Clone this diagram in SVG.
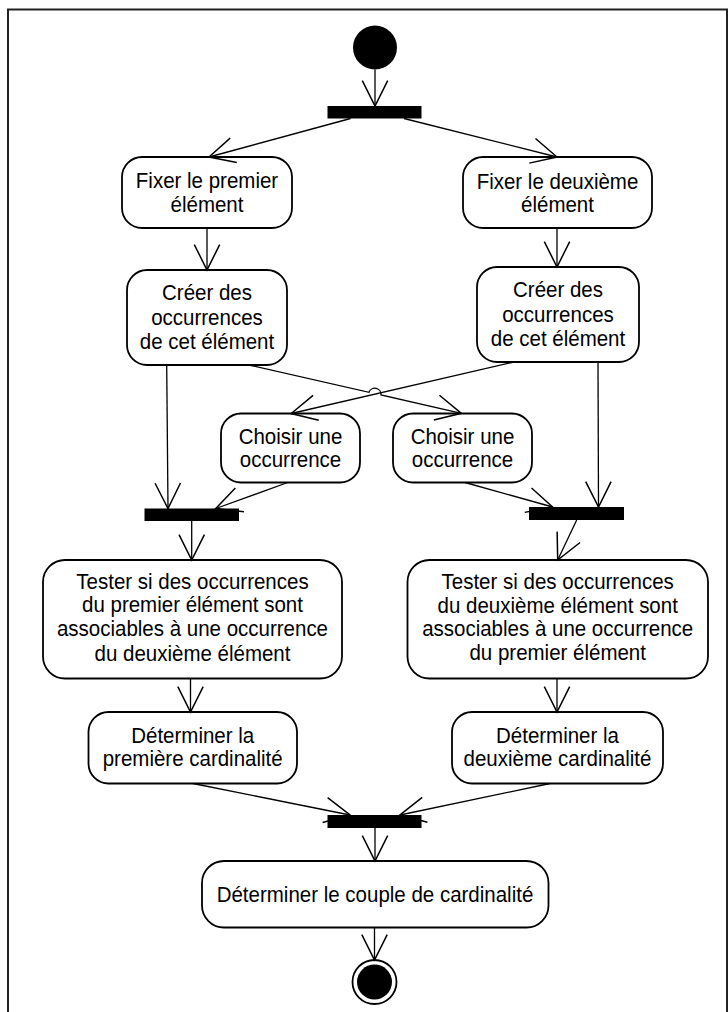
<svg xmlns="http://www.w3.org/2000/svg" width="728" height="1012" viewBox="0 0 728 1012">
<style>
.box{fill:#fff;stroke:#000;stroke-width:1.8}
.bar{fill:#000;stroke:none}
.t{font-family:"Liberation Sans",Arial,sans-serif;font-size:20.5px;fill:#000;text-anchor:middle;transform-box:fill-box;transform-origin:center;transform:scale(1,1.07)}
.c{fill:none;stroke:#000;stroke-width:1.3}
.frame{fill:none;stroke:#222;stroke-width:2}
</style>
<defs>
<marker id="arr" markerUnits="userSpaceOnUse" markerWidth="30" markerHeight="30" viewBox="-24 -13 26 26" refX="0" refY="0" orient="auto">
<path d="M-22,-11 L0,0 L-22,11" fill="none" stroke="#000" stroke-width="1.3"/>
</marker>
</defs>
<rect width="728" height="1012" fill="#fff"/>
<path class="frame" d="M8,1012 V9.5 H727 V1012"/>

<g id="start"><circle cx="375" cy="47.5" r="22" fill="#000"/></g>
<g id="fork1"><rect class="bar" x="327.5" y="106" width="94" height="12.5"/></g>

<g id="fixer1"><rect class="box" x="122" y="157" width="170" height="71" rx="20"/>
<text class="t" x="207" y="188">Fixer le premier</text><text class="t" x="207" y="212">élément</text></g>
<g id="fixer2"><rect class="box" x="463" y="157" width="189" height="71" rx="20"/>
<text class="t" x="557.5" y="188">Fixer le deuxième</text><text class="t" x="557.5" y="212">élément</text></g>

<g id="creer1"><rect class="box" x="127" y="270" width="160" height="95" rx="20"/>
<text class="t" x="207" y="299.5">Créer des</text><text class="t" x="207" y="324">occurrences</text><text class="t" x="207" y="348.5">de cet élément</text></g>
<g id="creer2"><rect class="box" x="477" y="267" width="162" height="95" rx="20"/>
<text class="t" x="558" y="296.5">Créer des</text><text class="t" x="558" y="321">occurrences</text><text class="t" x="558" y="345.5">de cet élément</text></g>

<g id="choisir1"><rect class="box" x="221" y="413.5" width="139" height="69" rx="20"/>
<text class="t" x="290.5" y="443">Choisir une</text><text class="t" x="290.5" y="466.5">occurrence</text></g>
<g id="choisir2"><rect class="box" x="393" y="413.5" width="139" height="69" rx="20"/>
<text class="t" x="462.5" y="443">Choisir une</text><text class="t" x="462.5" y="466.5">occurrence</text></g>

<g id="join1"><rect class="bar" x="144.5" y="508.5" width="94.5" height="12.5"/></g>
<g id="join2"><rect class="bar" x="529" y="507" width="95" height="13"/></g>

<g id="tester1"><rect class="box" x="43" y="560" width="299" height="118.5" rx="22"/>
<text class="t" x="192.5" y="588">Tester si des occurrences</text><text class="t" x="192.5" y="612">du premier élément sont</text><text class="t" x="192.5" y="636">associables à une occurrence</text><text class="t" x="192.5" y="660">du deuxième élément</text></g>
<g id="tester2"><rect class="box" x="407.5" y="560" width="300.5" height="118.5" rx="22"/>
<text class="t" x="557.7" y="588">Tester si des occurrences</text><text class="t" x="557.7" y="612">du deuxième élément sont</text><text class="t" x="557.7" y="636">associables à une occurrence</text><text class="t" x="557.7" y="660">du premier élément</text></g>

<g id="card1"><rect class="box" x="88.5" y="712" width="208.5" height="71.5" rx="20"/>
<text class="t" x="192.7" y="742">Déterminer la</text><text class="t" x="192.7" y="766">première cardinalité</text></g>
<g id="card2"><rect class="box" x="452" y="712" width="211" height="71.5" rx="20"/>
<text class="t" x="557.5" y="742">Déterminer la</text><text class="t" x="557.5" y="766">deuxième cardinalité</text></g>

<g id="join3"><rect class="bar" x="327.5" y="815" width="94" height="13"/></g>

<g id="couple"><rect class="box" x="202" y="861" width="346.5" height="66.5" rx="22"/>
<text class="t" x="375" y="901.5">Déterminer le couple de cardinalité</text></g>

<g id="end"><circle cx="374.5" cy="982" r="22" fill="#fff" stroke="#000" stroke-width="1.8"/><circle cx="374.5" cy="982" r="17.5" fill="#000"/></g>

<g id="connectors" class="c">
<line x1="375" y1="69.5" x2="375" y2="106" marker-end="url(#arr)"/>
<line x1="350.5" y1="118.5" x2="209" y2="157" marker-end="url(#arr)"/>
<line x1="404" y1="118.5" x2="557" y2="157" marker-end="url(#arr)"/>
<line x1="207" y1="228" x2="207" y2="270" marker-end="url(#arr)"/>
<line x1="557" y1="228" x2="557" y2="267" marker-end="url(#arr)"/>
<path d="M249,365 L369,392.3 A6.2,6.2 0 0 1 381,395 L461.4,413.3" marker-end="url(#arr)"/>
<line x1="514" y1="362" x2="291.2" y2="413.5" marker-end="url(#arr)"/>
<line x1="166.7" y1="365" x2="168" y2="508.5" marker-end="url(#arr)"/>
<line x1="287.7" y1="482.5" x2="215.8" y2="508.5" marker-end="url(#arr)"/>
<line x1="598" y1="362" x2="598.5" y2="507" marker-end="url(#arr)"/>
<line x1="465" y1="482.5" x2="552.6" y2="507" marker-end="url(#arr)"/>
<line x1="191.7" y1="521" x2="191.7" y2="560" marker-end="url(#arr)"/>
<line x1="576.7" y1="520" x2="557.7" y2="560" marker-end="url(#arr)"/>
<line x1="190.5" y1="678.5" x2="190.5" y2="712" marker-end="url(#arr)"/>
<line x1="557" y1="678.5" x2="557" y2="712" marker-end="url(#arr)"/>
<line x1="193" y1="783.5" x2="350" y2="815" marker-end="url(#arr)"/>
<line x1="550" y1="783.5" x2="400" y2="815" marker-end="url(#arr)"/>
<line x1="375" y1="828" x2="375" y2="861" marker-end="url(#arr)"/>
<line x1="374.5" y1="927.5" x2="374.5" y2="960" marker-end="url(#arr)"/>
</g>
</svg>
